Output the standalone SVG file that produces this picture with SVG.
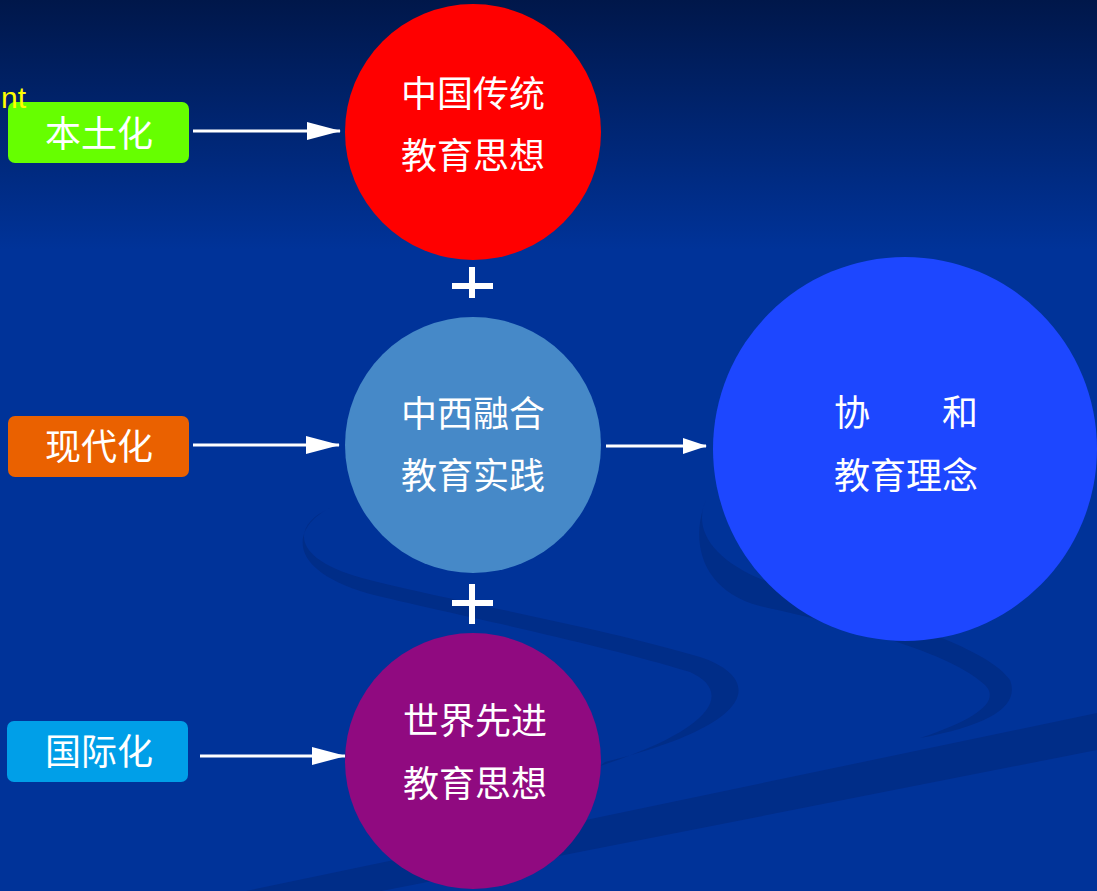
<svg xmlns="http://www.w3.org/2000/svg" width="1097" height="891" viewBox="0 0 1097 891">
<defs>
<linearGradient id="bg" x1="0" y1="0" x2="0" y2="250" gradientUnits="userSpaceOnUse">
<stop offset="0" stop-color="#00174a"/>
<stop offset="1" stop-color="#003399"/>
</linearGradient>
<marker id="ah" viewBox="0 0 34 18" refX="33" refY="9" markerWidth="34" markerHeight="18" markerUnits="userSpaceOnUse" orient="auto">
<path d="M0,0 L34,9 L0,18 Z" fill="#ffffff"/>
</marker>
<marker id="ah2" viewBox="0 0 24 16" refX="23" refY="8" markerWidth="24" markerHeight="16" markerUnits="userSpaceOnUse" orient="auto">
<path d="M0,0 L24,8 L0,16 Z" fill="#ffffff"/>
</marker>
</defs>
<style>
.lbl{font-family:"Noto Sans CJK SC","Noto Sans",sans-serif;font-size:36px;fill:#ffffff;text-anchor:middle}
.swoosh{fill:#002d88}
.conn{stroke:#ffffff;stroke-width:3;fill:none}
.plus{fill:#ffffff}
</style>
<rect x="0" y="0" width="1097" height="891" fill="url(#bg)"/>
<g id="background">
<path class="swoosh" d="M330,508 C292,525 290,558 362,578 C450,601 600,627 700,657 C760,677 765,722 605,762 L600,766 C722,726 730,690 690,672 C600,644 452,614 370,594 C280,568 295,525 330,508 Z"/>
<path class="swoosh" d="M706,500 C690,535 722,572 800,592 C900,620 990,650 1010,680 C1020,706 990,725 920,738 C980,718 1000,700 985,685 C950,652 850,626 760,606 C700,590 690,540 706,500 Z"/>
<path class="swoosh" d="M203,900 L1097,713 L1097,750 L336,900 Z"/>
</g>
<g id="connectors">
<line class="conn" x1="193" y1="131" x2="340" y2="131" marker-end="url(#ah)"/>
<line class="conn" x1="193" y1="445" x2="339" y2="445" marker-end="url(#ah)"/>
<line class="conn" x1="200" y1="756" x2="345" y2="756" marker-end="url(#ah)"/>
<line class="conn" x1="606" y1="446" x2="706" y2="446" marker-end="url(#ah2)"/>
</g>
<g id="plus1">
<rect class="plus" x="452" y="283" width="41" height="6"/>
<rect class="plus" x="469" y="267" width="6" height="31"/>
</g>
<g id="plus2">
<rect class="plus" x="452" y="600" width="41" height="6"/>
<rect class="plus" x="469" y="584" width="6" height="40"/>
</g>
<g id="node-bentuhua">
<rect x="8" y="102" width="181" height="61" rx="7" fill="#66ff00"/>
<text class="lbl" x="99" y="147">本土化</text>
</g>
<g id="node-xiandaihua">
<rect x="8" y="416" width="181" height="61" rx="7" fill="#ea6100"/>
<text class="lbl" x="99" y="460">现代化</text>
</g>
<g id="node-guojihua">
<rect x="7" y="721" width="181" height="61" rx="7" fill="#009fe8"/>
<text class="lbl" x="99" y="765">国际化</text>
</g>
<g id="node-chuantong">
<circle cx="473" cy="132" r="128" fill="#ff0000"/>
<text class="lbl" x="473" y="107">中国传统</text>
<text class="lbl" x="473" y="169">教育思想</text>
</g>
<g id="node-ronghe">
<circle cx="473" cy="445" r="128" fill="#4689c8"/>
<text class="lbl" x="473" y="427">中西融合</text>
<text class="lbl" x="473" y="489">教育实践</text>
</g>
<g id="node-xianjin">
<circle cx="473" cy="761" r="128" fill="#900a80"/>
<text class="lbl" x="475" y="734">世界先进</text>
<text class="lbl" x="475" y="797">教育思想</text>
</g>
<g id="node-xiehe">
<circle cx="905" cy="449" r="192" fill="#1d47ff"/>
<text class="lbl" x="906" y="426">协　　和</text>
<text class="lbl" x="906" y="489">教育理念</text>
</g>
<text x="1" y="108" font-family="Liberation Sans, Arial, sans-serif" font-size="30" fill="#ffff00">nt</text>
</svg>
